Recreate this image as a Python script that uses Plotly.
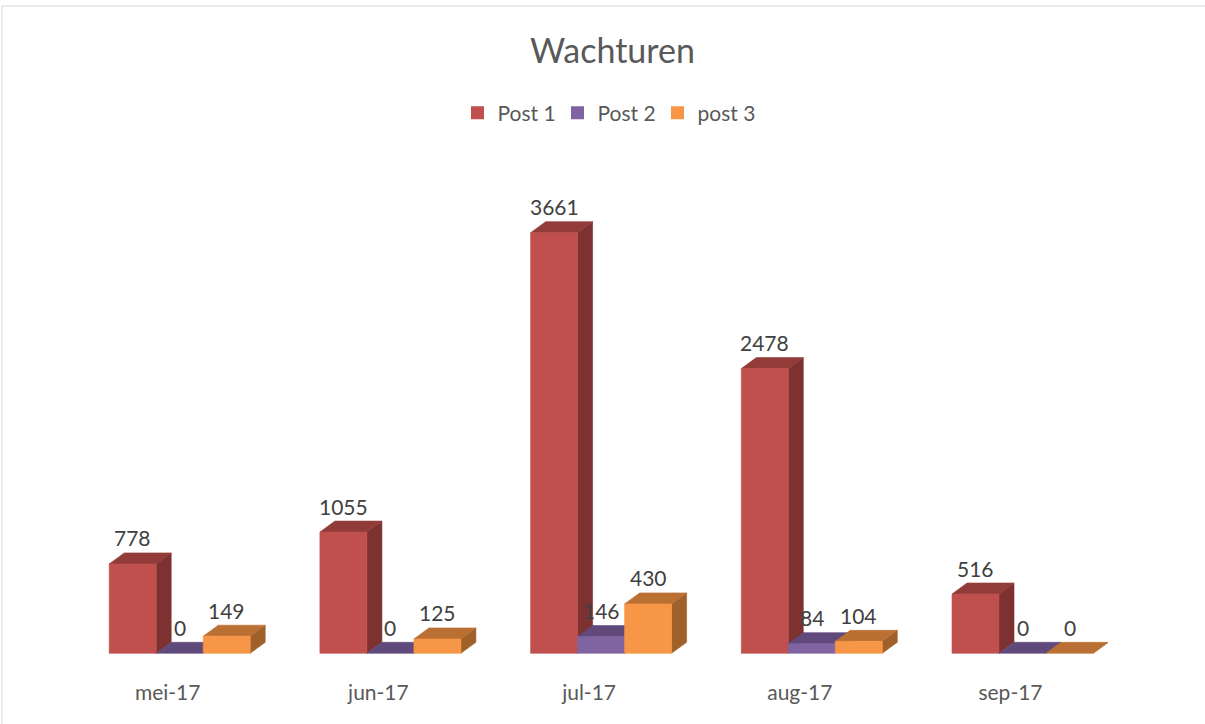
import plotly.graph_objects as go

# ---- data ----
categories = ["mei-17", "jun-17", "jul-17", "aug-17", "sep-17"]
series_names = ["Post 1", "Post 2", "post 3"]
post1 = [778, 1055, 3661, 2478, 516]
post2 = [0, 0, 146, 84, 0]
post3 = [149, 125, 430, 104, 0]
values = [post1, post2, post3]

# ---- styles ----
front_colors = ["#C0504D", "#8064A2", "#F79646"]
top_colors = ["#923C3A", "#604A7B", "#BA7033"]
side_colors = ["#7D3130", "#4E3C66", "#A0602A"]

W, H = 1205, 724
T_PIX, B_PIX = 150, 678          # plot area top / bottom (pixels)
BASE_PIX = 653.3                 # pixel row of the value 0
PPU_Y = 0.1149                   # pixels per value unit
U_X = 210.7                      # pixels per category
X0_PIX = 179.7                   # pixel of first category centre
BAR_W = 47 / U_X                 # bar width in category units
DX = 15 / U_X                    # depth offset (x)
DY = 11 / PPU_Y                  # depth offset (y, in value units)

y_range = [-(B_PIX - BASE_PIX) / PPU_Y, (BASE_PIX - T_PIX) / PPU_Y]
x_range = [-X0_PIX / U_X, (W - X0_PIX) / U_X]

fig = go.Figure()

# legend entries
for s, name in enumerate(series_names):
    fig.add_trace(go.Scatter(
        x=[None], y=[None], mode="markers", name=name,
        marker=dict(symbol="square", size=13, color=front_colors[s]),
        hoverinfo="skip", showlegend=True))


def poly_trace(xs, ys, color):
    return go.Scatter(x=xs, y=ys, mode="lines", fill="toself",
                      fillcolor=color, line=dict(color=color, width=0.6),
                      hoverinfo="skip", showlegend=False)


annotations = []
for s in range(3):
    sx, sy, tx, ty, fx, fy = [], [], [], [], [], []
    for i, v in enumerate(values[s]):
        x0 = i - 1.5 * BAR_W + s * BAR_W
        x1 = x0 + BAR_W
        # side face
        sx += [x1, x1 + DX, x1 + DX, x1, x1, None]
        sy += [0, DY, v + DY, v, 0, None]
        # top face
        tx += [x0, x1, x1 + DX, x0 + DX, x0, None]
        ty += [v, v, v + DY, v + DY, v, None]
        # front face
        if v > 0:
            fx += [x0, x1, x1, x0, x0, None]
            fy += [0, 0, v, v, 0, None]
        annotations.append(dict(
            x=(x0 + x1) / 2, y=v + DY, xref="x", yref="y",
            text=str(v), showarrow=False, yanchor="middle", yshift=15,
            font=dict(family="Lato", size=21, color="#404040")))
    fig.add_trace(poly_trace(sx, sy, side_colors[s]))
    fig.add_trace(poly_trace(tx, ty, top_colors[s]))
    if fx:
        fig.add_trace(poly_trace(fx, fy, front_colors[s]))

# title
annotations.append(dict(
    x=612 / W, y=(B_PIX - 50) / (B_PIX - T_PIX), xref="paper", yref="paper",
    text="Wachturen", showarrow=False, xanchor="center", yanchor="middle",
    font=dict(family="Lato", size=34, color="#595959")))

fig.update_layout(
    width=W, height=H,
    margin=dict(l=0, r=0, t=T_PIX, b=H - B_PIX),
    paper_bgcolor="white", plot_bgcolor="white",
    annotations=annotations,
    showlegend=True,
    legend=dict(orientation="h", x=607.5 / W, xanchor="center",
                y=(B_PIX - 113) / (B_PIX - T_PIX), yanchor="middle",
                entrywidth=55, entrywidthmode="pixels",
                font=dict(family="Lato", size=21, color="#595959"),
                bgcolor="rgba(0,0,0,0)"),
    xaxis=dict(range=x_range, showgrid=False, zeroline=False, showline=False,
               tickmode="array",
               tickvals=[i - 12 / U_X for i in range(len(categories))],
               ticktext=categories, ticks="",
               tickfont=dict(family="Lato", size=21, color="#595959"),
               fixedrange=True),
    yaxis=dict(range=y_range, showgrid=False, zeroline=False, showline=False,
               showticklabels=False, fixedrange=True),
    shapes=[dict(type="rect", xref="paper", yref="paper",
                 x0=2 / W, x1=1.02, y0=-0.2, y1=(B_PIX - 6) / (B_PIX - T_PIX),
                 line=dict(color="#D9D9D9", width=1), fillcolor="rgba(0,0,0,0)",
                 layer="below")],
)

fig.write_html("out.html")
